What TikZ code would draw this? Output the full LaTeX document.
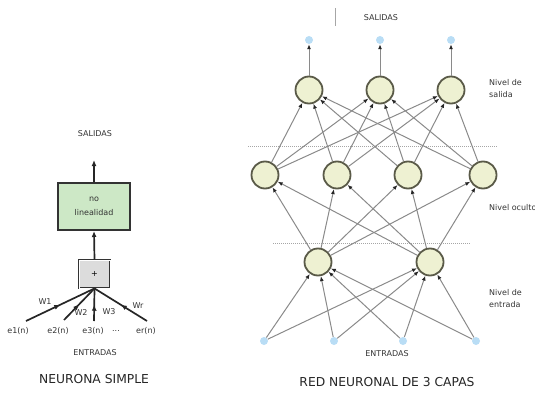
\documentclass[tikz,border=0pt]{standalone}
\usepackage{fontspec}
\setmainfont{DejaVu Sans}
\usetikzlibrary{arrows.meta,decorations.markings}
\definecolor{boxgreen}{HTML}{CDE8C6}
\definecolor{boxgray}{HTML}{DCDCDC}
\definecolor{neufill}{HTML}{EEF1D2}
\definecolor{neuedge}{HTML}{5A5A48}
\definecolor{dotblue}{HTML}{B9DDF5}
\definecolor{linegray}{HTML}{8A8A8A}
\tikzset{
  lbl/.style={font=\fontsize{8}{9}\selectfont, text=black!80, inner sep=0pt},
  title/.style={font=\fontsize{12.3}{13}\selectfont, text=black!85, inner sep=0pt},
  side/.style={font=\fontsize{8}{12}\selectfont, text=black!80, inner sep=0pt, align=left, anchor=west},
  neuron/.style={circle, draw=neuedge, line width=1.8pt, fill=neufill, minimum size=27pt, inner sep=0pt},
  iodot/.style={circle, fill=dotblue, minimum size=8pt, inner sep=0pt},
  conn/.style={draw=linegray, line width=1pt, -{Latex[length=5pt,width=4pt,black!85]}},
  thickarrow/.style={line width=1.7pt, black!85, -{Latex[length=6pt,width=5pt]}},
  midarrow/.style={line width=1.7pt, black!85, decoration={markings, mark=at position 0.5 with {\arrow{Latex[length=6pt,width=5pt]}}}, postaction=decorate},
  dotline/.style={draw=black!35, line width=0.5pt, dash pattern=on 1pt off 1pt}
}
\begin{document}
\begin{tikzpicture}[x=1pt,y=-1pt]
\useasboundingbox (0,0) rectangle (535,396);
% ---------- neurona simple ----------
\node[lbl] (sal1) at (95,134) {SALIDAS};
\node[draw=black!80, line width=2pt, fill=boxgreen, minimum width=72pt, minimum height=47pt, align=center, font=\fontsize{8}{14}\selectfont, text=black!80] (nl) at (94,206.5) {no\\linealidad};
\node[draw=black!80, line width=0.9pt, double=white, double distance=1pt, fill=boxgray, minimum width=31pt, minimum height=28pt, font=\fontsize{8}{9}\selectfont] (sum) at (94.5,274) {+};
\coordinate (outtop) at (94,160);
\draw[thickarrow] (nl.north) -- (outtop);
\draw[thickarrow] (sum.north) -- (nl.south);
\coordinate (e1c) at (26,321);
\coordinate (e2c) at (64,320);
\coordinate (e3c) at (94,321);
\coordinate (erc) at (147,321);
\draw[midarrow] (e1c) -- (sum.south);
\draw[midarrow] (e2c) -- (sum.south);
\draw[midarrow] (e3c) -- (sum.south);
\draw[midarrow] (erc) -- (sum.south);
\node[lbl] (w1) at (45,302) {W1};
\node[lbl] (w2) at (81,313) {W2};
\node[lbl] (w3) at (109,312) {W3};
\node[lbl] (wr) at (138,306) {Wr};
\node[lbl] (e1) at (18,331) {e1(n)};
\node[lbl] (e2) at (58,331) {e2(n)};
\node[lbl] (e3) at (93,331) {e3(n)};
\node[lbl] (dots) at (116,331) {...};
\node[lbl] (er) at (146,331) {er(n)};
\node[lbl] (ent1) at (95,353) {ENTRADAS};
\node[title] (t1) at (94,379) {NEURONA SIMPLE};
% ---------- red de 3 capas ----------
\coordinate (tickA) at (335,8);
\coordinate (tickB) at (335,26);
\draw[draw=black!35, line width=0.6pt] (tickA) -- (tickB);
\node[lbl] (sal2) at (381,18) {SALIDAS};
% output dots
\node[iodot] (o1) at (309,40) {};
\node[iodot] (o2) at (380,40) {};
\node[iodot] (o3) at (451,40) {};
% output neurons
\node[neuron] (s1) at (309,90) {};
\node[neuron] (s2) at (380,90) {};
\node[neuron] (s3) at (451,90) {};
% hidden neurons
\node[neuron] (h1) at (265,175) {};
\node[neuron] (h2) at (337,175) {};
\node[neuron] (h3) at (408,175) {};
\node[neuron] (h4) at (483,175) {};
% input neurons
\node[neuron] (n1) at (318,262) {};
\node[neuron] (n2) at (430,262) {};
% input dots
\node[iodot] (i1) at (264,341) {};
\node[iodot] (i2) at (334,341) {};
\node[iodot] (i3) at (403,341) {};
\node[iodot] (i4) at (476,341) {};
% dotted separators
\coordinate (d1a) at (248,146); \coordinate (d1b) at (498,146);
\coordinate (d2a) at (273,243); \coordinate (d2b) at (470,243);
\draw[dotline] (d1a) -- (d1b);
\draw[dotline] (d2a) -- (d2b);
% connections
\foreach \i in {i1,i2,i3,i4}{\foreach \n in {n1,n2}{\draw[conn] (\i) -- (\n);}}
\foreach \n in {n1,n2}{\foreach \h in {h1,h2,h3,h4}{\draw[conn] (\n) -- (\h);}}
\foreach \h in {h1,h2,h3,h4}{\foreach \s in {s1,s2,s3}{\draw[conn] (\h) -- (\s);}}
\draw[conn] (s1) -- (o1);
\draw[conn] (s2) -- (o2);
\draw[conn] (s3) -- (o3);
% side labels
\node[side] (ls) at (489,89) {Nivel de\\salida};
\node[side] (lo) at (489,208) {Nivel oculto};
\node[side] (le) at (489,299) {Nivel de\\entrada};
\node[lbl] (ent2) at (387,354) {ENTRADAS};
\node[title] (t2) at (387,382) {RED NEURONAL DE 3 CAPAS};
\end{tikzpicture}
\end{document}
